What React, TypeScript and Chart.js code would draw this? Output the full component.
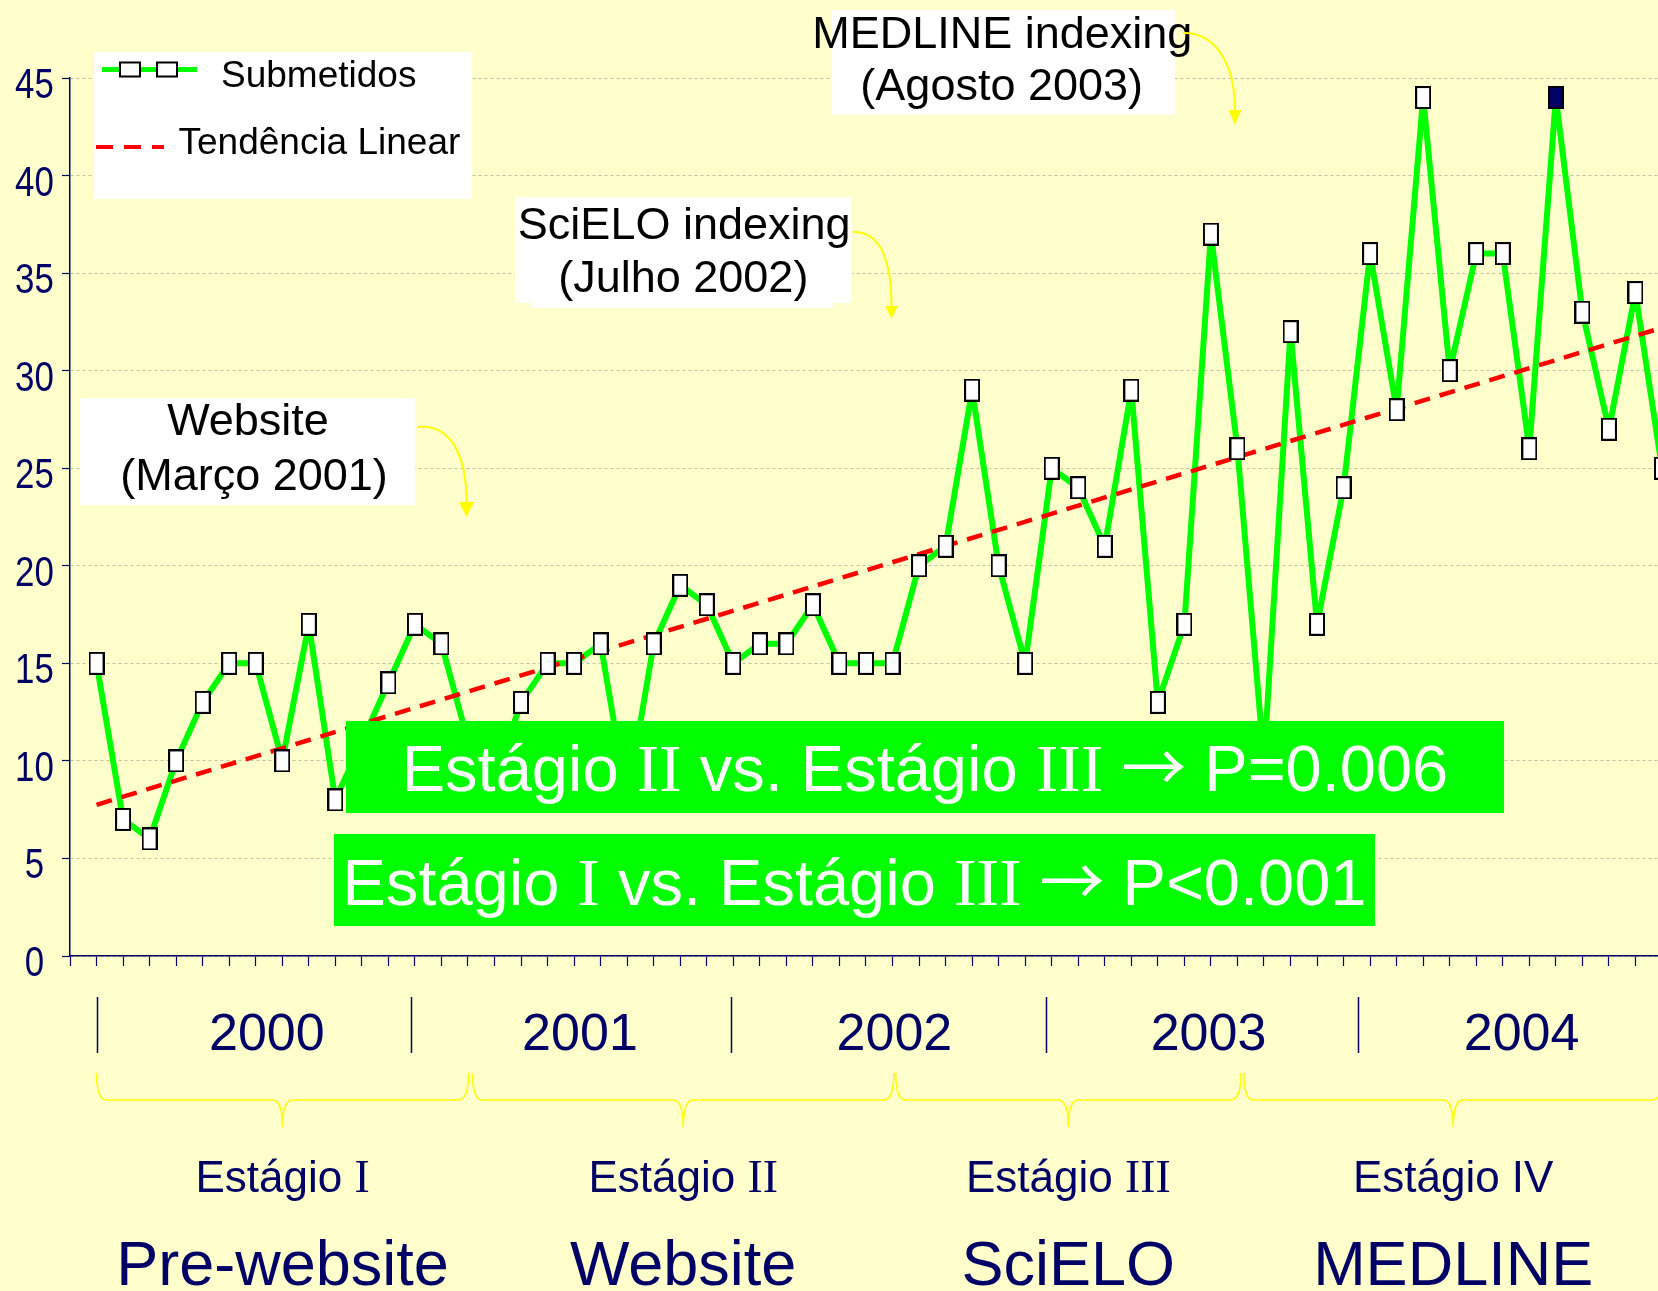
import React, { useEffect, useRef } from 'react';
import { Chart, registerables } from 'chart.js';

Chart.register(...registerables);

// ---------- DATA ----------
// Monthly submissions, Jan 2000 .. Dec 2004 (month 1 .. 60)
const submitted = [
  15, 7, 6, 10, 13, 15, 15, 10, 17, 8,
  11, 14, 17, 16, 11, 9, 13, 15, 15, 16,
  8, 16, 19, 18, 15, 16, 16, 18, 15, 15,
  15, 20, 21, 29, 20, 15, 25, 24, 21, 29,
  13, 17, 37, 26, 10, 32, 17, 24, 36, 28,
  44, 30, 36, 36, 26, 44, 33, 27, 34, 25,
];
const highlightedMonth = 56;
const trendMonths = [1, 60];
const trendValues = [7.75, 32.2];
const yTickValues = [0, 5, 10, 15, 20, 25, 30, 35, 40, 45];

const yearLabels = ['2000', '2001', '2002', '2003', '2004'];
const yearCenters = [7.42, 19.22, 31.07, 42.91, 54.71];
const yearDividers = [1, 12.85, 24.9, 36.8, 48.55];

const stageTitles = ['Estágio I', 'Estágio II', 'Estágio III', 'Estágio IV'];
const stagePhases = ['Pre-website', 'Website', 'SciELO', 'MEDLINE'];
const stageStarts = [1, 15.17, 31.12, 44.24];
const stageEnds = [15.02, 31.05, 44.13, 60.02];

const legendLabels = ['Submetidos', 'Tendência Linear'];
const annotationTexts = [
  ['Website', '(Março 2001)'],
  ['SciELO indexing', '(Julho 2002)'],
  ['MEDLINE indexing', '(Agosto 2003)'],
];
const statTexts = [
  'Estágio II vs. Estágio III \u2192 P=0.006',
  'Estágio I vs. Estágio III \u2192 P<0.001',
];

// ---------- STYLE / LAYOUT ----------
const W = 1658;
const H = 1291;
const BG = '#FFFFCC';
const NAVY = '#000066';
const GREEN = '#00FF00';
const RED = '#FF0000';
const YELLOW = '#FFFF00';
const SANS = "'Liberation Sans', Arial, Helvetica, sans-serif";
const SERIF = "'Liberation Serif', 'Times New Roman', serif";
const ARROWFONT = "'Noto Sans CJK SC', 'DejaVu Sans', sans-serif";

const ANNOT_LAYOUT = [
  { box: [80, 398, 335, 107], extra: null, cx: [248, 254], base: [435, 490],
    arrow: { p0: [418, 427], c1: [449, 424], c2: [466.5, 452], p1: [466.5, 502], tip: 517, half: 7.5 } },
  { box: [515, 197, 337, 106], extra: [531, 296, 302, 12], cx: [684.2, 683.3], base: [238.5, 291.7],
    arrow: { p0: [853, 232], c1: [879, 231], c2: [891.5, 258], p1: [891.5, 306], tip: 318.5, half: 6.5 } },
  { box: [832, 10, 343, 105], extra: null, cx: [1002.3, 1001.7], base: [48.3, 100],
    arrow: { p0: [1183, 33], c1: [1214, 32], c2: [1235, 62], p1: [1235, 110], tip: 125, half: 6.5 } },
];
const STAT_LAYOUT = [
  { box: [346, 721, 1158, 92], base: 791 },
  { box: [334, 834, 1041, 92], base: 905 },
];

function makeMarker(fill: string, w: number, h: number) {
  const c = document.createElement('canvas');
  c.width = w;
  c.height = h;
  const g = c.getContext('2d')!;
  g.fillStyle = '#000000';
  g.fillRect(0, 0, w, h);
  g.fillStyle = fill;
  g.fillRect(2, 2, w - 4, h - 4);
  return c;
}

type Seg = { text: string; kind: 'sans' | 'serif' | 'arrow' };
function segments(text: string): Seg[] {
  return text
    .split(/(\bI{1,3}\b|\u2192)/)
    .filter((p) => p !== '')
    .map((p) => ({
      text: p,
      kind: /^I{1,3}$/.test(p) ? 'serif' : p === '\u2192' ? 'arrow' : 'sans',
    }));
}

function drawRich(ctx: CanvasRenderingContext2D, text: string, x: number, y: number, size: number, color: string) {
  const segs = segments(text);
  const fontOf = (s: Seg) =>
    s.kind === 'serif'
      ? `${size * 1.04}px ${SERIF}`
      : s.kind === 'arrow'
      ? `${size}px ${ARROWFONT}`
      : `${size}px ${SANS}`;
  const widths = segs.map((s) => {
    ctx.font = fontOf(s);
    return ctx.measureText(s.text).width;
  });
  const total = widths.reduce((a, b) => a + b, 0);
  let cx = x - total / 2;
  ctx.textAlign = 'left';
  ctx.textBaseline = 'alphabetic';
  ctx.fillStyle = color;
  segs.forEach((s, i) => {
    ctx.font = fontOf(s);
    ctx.fillText(s.text, cx, y);
    cx += widths[i];
  });
}

function drawCentered(ctx: CanvasRenderingContext2D, text: string, x: number, y: number, size: number, color: string) {
  ctx.font = `${size}px ${SANS}`;
  ctx.textAlign = 'center';
  ctx.textBaseline = 'alphabetic';
  ctx.fillStyle = color;
  ctx.fillText(text, x, y);
}

const overlayPlugin = {
  id: 'overlay',
  beforeDraw(chart: any) {
    const ctx = chart.ctx as CanvasRenderingContext2D;
    ctx.save();
    ctx.fillStyle = BG;
    ctx.fillRect(0, 0, chart.width, chart.height);
    ctx.restore();
  },
  afterDraw(chart: any) {
    const ctx = chart.ctx as CanvasRenderingContext2D;
    const xs = chart.scales.x;
    const ys = chart.scales.y;
    const px = (v: number) => xs.getPixelForValue(v);
    ctx.save();

    // Y tick labels (condensed, centred like the original)
    ctx.font = `42px ${SANS}`;
    ctx.textAlign = 'center';
    ctx.textBaseline = 'alphabetic';
    ctx.fillStyle = NAVY;
    ys.ticks.forEach((t: any) => {
      const y = ys.getPixelForValue(t.value);
      ctx.save();
      ctx.translate(34.5, y + 20);
      ctx.scale(0.83, 1);
      ctx.fillText(String(t.value), 0, 0);
      ctx.restore();
    });

    // Year dividers and labels
    ctx.strokeStyle = NAVY;
    ctx.lineWidth = 1.5;
    yearDividers.forEach((d) => {
      const x = Math.round(px(d)) + 0.5;
      ctx.beginPath();
      ctx.moveTo(x, 997);
      ctx.lineTo(x, 1053);
      ctx.stroke();
    });
    yearLabels.forEach((t, i) => drawCentered(ctx, t, px(yearCenters[i]), 1049.5, 52, NAVY));

    // Braces
    ctx.strokeStyle = YELLOW;
    ctx.lineWidth = 1.6;
    const y0 = 1073, y1 = 1100, y2 = 1127, r = 10;
    stageStarts.forEach((s, i) => {
      const x1 = px(s), x2 = px(stageEnds[i]), xm = px((s + stageEnds[i]) / 2);
      ctx.beginPath();
      ctx.moveTo(x1, y0);
      ctx.quadraticCurveTo(x1, y1, x1 + r, y1);
      ctx.lineTo(xm - r, y1);
      ctx.quadraticCurveTo(xm, y1, xm, y2);
      ctx.quadraticCurveTo(xm, y1, xm + r, y1);
      ctx.lineTo(x2 - r, y1);
      ctx.quadraticCurveTo(x2, y1, x2, y0);
      ctx.stroke();
      drawRich(ctx, stageTitles[i], xm, 1192, 44, NAVY);
      drawCentered(ctx, stagePhases[i], xm, 1285, 63, NAVY);
    });

    // Annotation boxes and arrows
    annotationTexts.forEach((lines, i) => {
      const L = ANNOT_LAYOUT[i];
      ctx.fillStyle = '#FFFFFF';
      ctx.fillRect(L.box[0], L.box[1], L.box[2], L.box[3]);
      if (L.extra) ctx.fillRect(L.extra[0], L.extra[1], L.extra[2], L.extra[3]);
      lines.forEach((t, j) => drawCentered(ctx, t, L.cx[j], L.base[j], 45, '#000000'));
      const a = L.arrow;
      ctx.strokeStyle = YELLOW;
      ctx.lineWidth = 2;
      ctx.beginPath();
      ctx.moveTo(a.p0[0], a.p0[1]);
      ctx.bezierCurveTo(a.c1[0], a.c1[1], a.c2[0], a.c2[1], a.p1[0], a.p1[1]);
      ctx.stroke();
      ctx.fillStyle = YELLOW;
      ctx.beginPath();
      ctx.moveTo(a.p1[0] - a.half, a.p1[1]);
      ctx.lineTo(a.p1[0] + a.half, a.p1[1]);
      ctx.lineTo(a.p1[0], a.tip);
      ctx.closePath();
      ctx.fill();
    });

    // Statistic boxes
    statTexts.forEach((t, i) => {
      const L = STAT_LAYOUT[i];
      ctx.fillStyle = GREEN;
      ctx.fillRect(L.box[0], L.box[1], L.box[2], L.box[3]);
      drawRich(ctx, t, L.box[0] + L.box[2] / 2, L.base, 65, '#FFFFFF');
    });

    // Legend
    ctx.fillStyle = '#FFFFFF';
    ctx.fillRect(94, 52, 378, 147);
    ctx.strokeStyle = GREEN;
    ctx.lineWidth = 5;
    ctx.setLineDash([]);
    ctx.beginPath();
    ctx.moveTo(102, 69.5);
    ctx.lineTo(197, 69.5);
    ctx.stroke();
    [130, 167].forEach((cx) => {
      ctx.fillStyle = '#000000';
      ctx.fillRect(cx - 11, 61.5, 22, 16);
      ctx.fillStyle = '#FFFFFF';
      ctx.fillRect(cx - 9, 63.5, 18, 12);
    });
    ctx.strokeStyle = RED;
    ctx.lineWidth = 4;
    ctx.setLineDash([17, 11]);
    ctx.beginPath();
    ctx.moveTo(96, 147);
    ctx.lineTo(164, 147);
    ctx.stroke();
    ctx.setLineDash([]);
    ctx.font = `37px ${SANS}`;
    ctx.textAlign = 'left';
    ctx.textBaseline = 'alphabetic';
    ctx.fillStyle = '#000000';
    ctx.fillText(legendLabels[0], 221, 87);
    ctx.fillText(legendLabels[1], 178.5, 153.5);

    ctx.restore();
  },
};

export default function App() {
  const ref = useRef<HTMLCanvasElement | null>(null);

  useEffect(() => {
    document.body.style.margin = '0';
    document.body.style.background = BG;
    document.body.style.overflow = 'hidden';
    const canvas = ref.current;
    if (!canvas) return;

    const white = makeMarker('#FFFFFF', 16, 23);
    const dark = makeMarker(NAVY, 16, 23);
    const points = submitted.map((v, i) => ({ x: i + 1, y: v }));
    const trend = trendMonths.map((m, i) => ({ x: m, y: trendValues[i] }));
    const xTicks = points.map((p) => p.x - 1);

    const chart = new Chart(canvas, {
      type: 'line',
      data: {
        datasets: [
          {
            label: legendLabels[0],
            data: points,
            borderColor: GREEN,
            borderWidth: 6,
            borderJoinStyle: 'round',
            borderCapStyle: 'round',
            pointRadius: 0,
            tension: 0,
            order: 2,
          },
          {
            label: legendLabels[1],
            data: trend,
            borderColor: RED,
            borderWidth: 4.5,
            borderDash: [16, 10],
            pointRadius: 0,
            tension: 0,
            order: 1,
          },
          {
            label: legendLabels[0] + ' markers',
            data: points,
            showLine: false,
            pointStyle: submitted.map((_, i) => (i + 1 === highlightedMonth ? dark : white)) as any,
            pointRadius: 11,
            order: 0,
          },
        ],
      },
      options: {
        animation: false,
        responsive: false,
        devicePixelRatio: 1,
        layout: { autoPadding: false, padding: { top: 78, left: 0, right: 0, bottom: 0 } },
        plugins: { legend: { display: false }, tooltip: { enabled: false } },
        events: [],
        scales: {
          x: {
            type: 'linear',
            min: 0,
            max: 59.85,
            bounds: 'data',
            ticks: { display: false, stepSize: 1 },
            afterBuildTicks: (s: any) => {
              s.ticks = xTicks.map((v) => ({ value: v }));
            },
            grid: { drawOnChartArea: false, drawTicks: true, tickLength: 10, tickColor: NAVY, tickWidth: 1.2 },
            border: { display: true, color: NAVY, width: 1.5 },
            afterFit: (s: any) => {
              s.height = H - 956;
            },
          },
          y: {
            type: 'linear',
            min: 0,
            max: 45,
            bounds: 'data',
            ticks: { display: false, stepSize: 5 },
            afterBuildTicks: (s: any) => {
              s.ticks = yTickValues.map((v) => ({ value: v }));
            },
            grid: {
              color: 'rgba(120,120,120,0.45)',
              lineWidth: 1,
              drawTicks: true,
              tickLength: 8,
              tickColor: NAVY,
              tickWidth: 1.2,
            },
            border: { display: true, color: NAVY, width: 1.5, dash: [3, 3] },
            afterFit: (s: any) => {
              s.width = 70;
            },
          },
        },
      } as any,
      plugins: [overlayPlugin],
    });

    return () => chart.destroy();
  }, []);

  return <canvas ref={ref} width={W} height={H} style={{ display: 'block', width: W, height: H }} />;
}
